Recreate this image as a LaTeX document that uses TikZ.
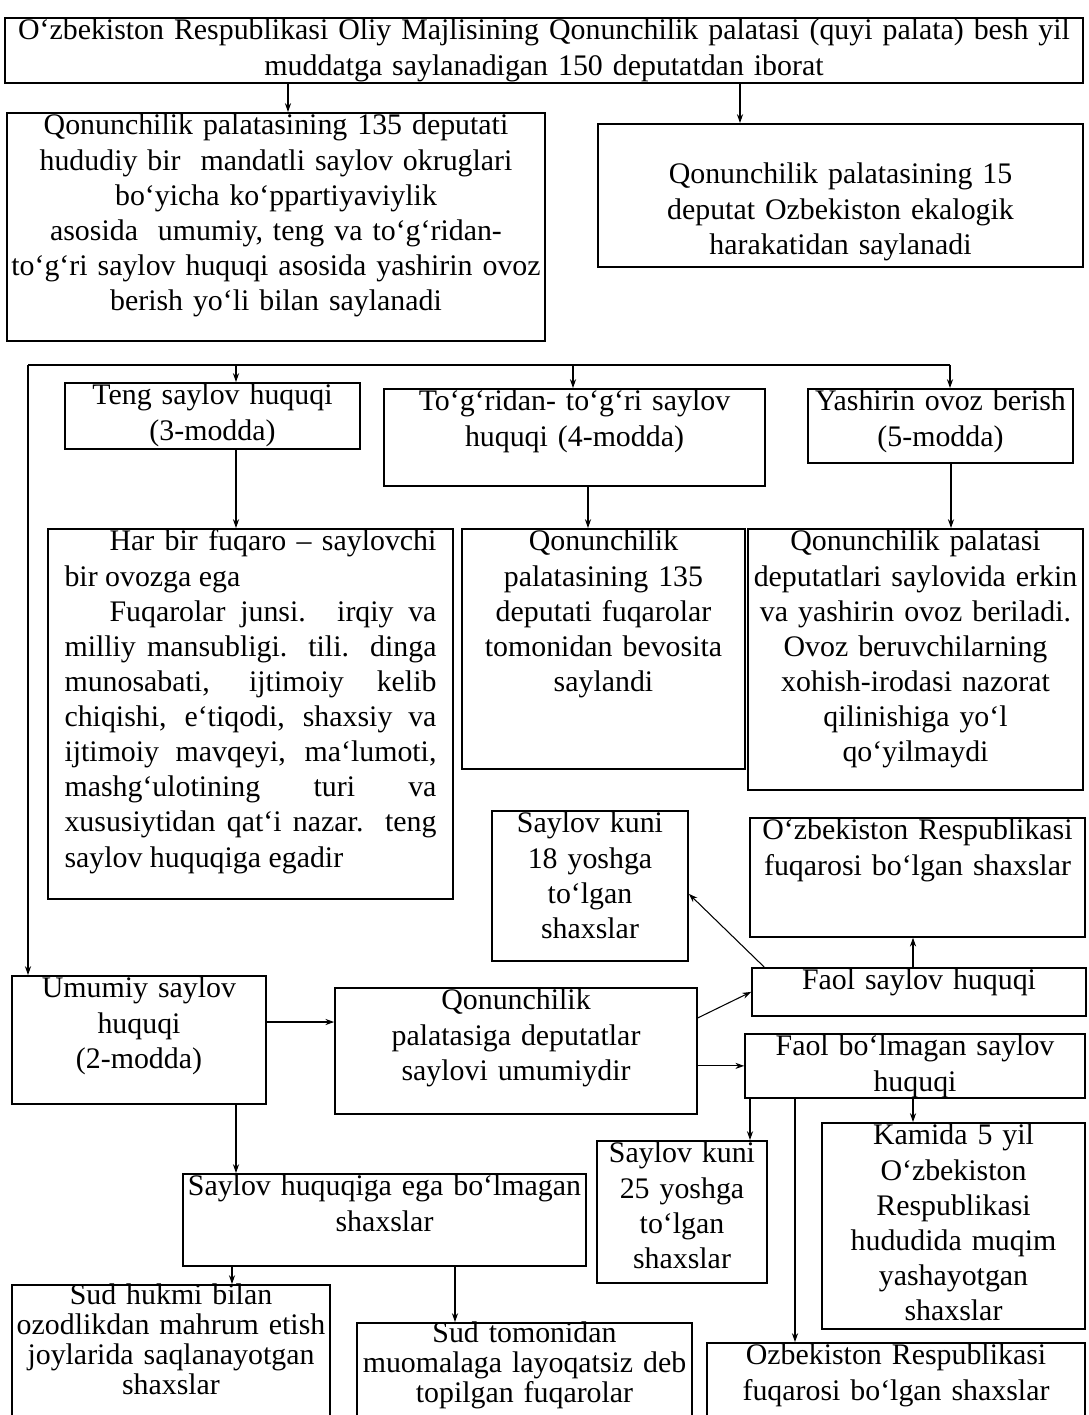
\documentclass[tikz,border=0pt]{standalone}
\usepackage{fontspec}
\setmainfont{Liberation Serif}
\usetikzlibrary{positioning,arrows.meta}
\tikzset{
  box/.style 2 args={draw, line width=1pt, anchor=north, align=center, inner xsep=1pt, inner ysep=0pt, text width=#1, text height=0.44cm, text depth=#2},
  tight/.style={font=\fontsize{17pt}{17pt}\selectfont, text height=0.40cm},
  arr/.style={-{Stealth[length=5pt,width=3.5pt]}, line width=0.6pt},
  ln/.style={line width=0.6pt}
}

\begin{document}
\begin{tikzpicture}[x=0.02cm, y=-0.02cm, font=\fontsize{17pt}{20pt}\selectfont]
  \useasboundingbox (0,0) rectangle (1088,1415);
  \clip (0,0) rectangle (1088,1415);

  % top part
  \node[box={21.49cm}{0.86cm}] (top) at (544,17) {O‘zbekiston Respublikasi Oliy Majlisining Qonunchilik palatasi (quyi palata) besh yil\\muddatga saylanadigan 150 deputatdan iborat};
  \node[box={10.69cm}{4.12cm}] (deputA) at (276,112) {Qonunchilik palatasining 135 deputati\\hududiy bir\ \ mandatli saylov okruglari\\bo‘yicha ko‘ppartiyaviylik\\asosida\ \ umumiy, teng va to‘g‘ridan-\\to‘g‘ri saylov huquqi asosida yashirin ovoz\\berish yo‘li bilan saylanadi};
  \node[box={9.63cm}{1.66cm}, text height=1.2cm] (deputB) at (840.5,123) {Qonunchilik palatasining 15\\deputat Ozbekiston ekalogik\\harakatidan saylanadi};
  \draw[arr] (288,0 |- top.south) -- (288,0 |- deputA.north);
  \draw[arr] (740,0 |- top.south) -- (740,0 |- deputB.north);

  % principles
  \node[box={5.83cm}{0.88cm}] (teng) at (212.5,382) {Teng saylov huquqi\\(3-modda)};
  \node[box={7.55cm}{1.50cm}] (togri) at (574.5,388) {To‘g‘ridan- to‘g‘ri saylov\\huquqi (4-modda)};
  \node[box={5.23cm}{1.04cm}] (yashirin) at (940.5,388) {Yashirin ovoz berish\\(5-modda)};

  \node[box={7.44cm}{6.96cm}, inner xsep=0.33cm, align=justify] (harbir) at (250.5,528) {\hspace*{0.9cm}Har bir fuqaro -- saylovchi\linebreak bir ovozga ega\par
    \hspace*{0.9cm}Fuqarolar junsi. irqiy va\linebreak milliy mansubligi. tili. dinga\linebreak munosabati, ijtimoiy kelib\linebreak chiqishi, e‘tiqodi, shaxsiy va\linebreak ijtimoiy mavqeyi, ma‘lumoti,\linebreak mashg‘ulotining turi va\linebreak xususiytidan qat‘i nazar. teng\linebreak saylov huquqiga egadir};
  \node[box={5.59cm}{4.36cm}] (deput135) at (603.5,528) {Qonunchilik\\palatasining 135\\deputati fuqarolar\\tomonidan bevosita\\saylandi};
  \node[box={6.63cm}{4.78cm}] (palatasi) at (915.5,528) {Qonunchilik palatasi\\deputatlari saylovida erkin\\va yashirin ovoz beriladi.\\Ovoz beruvchilarning\\xohish-irodasi nazorat\\qilinishiga yo‘l\\qo‘yilmaydi};

  \coordinate (busL) at (28,365);
  \coordinate (busR) at (950,365);
  \draw[ln] (busL) -- (busR);
  \draw[arr] (236,0 |- busL) -- (236,0 |- teng.north);
  \draw[arr] (573,0 |- busL) -- (573,0 |- togri.north);
  \draw[arr] (busR) -- (busR |- yashirin.north);
  \draw[arr] (236,0 |- teng.south) -- (236,0 |- harbir.north);
  \draw[arr] (588,0 |- togri.south) -- (588,0 |- deput135.north);
  \draw[arr] (951,0 |- yashirin.south) -- (951,0 |- palatasi.north);

  % general suffrage
  \node[box={3.85cm}{2.56cm}] (yosh18) at (590,810) {Saylov kuni\\18 yoshga\\to‘lgan\\shaxslar};
  \node[box={6.63cm}{1.94cm}] (fuqarosi) at (917.5,817) {O‘zbekiston Respublikasi\\fuqarosi bo‘lgan shaxslar};
  \node[box={6.61cm}{0.52cm}] (faol) at (919,967) {Faol saylov huquqi};
  \node[box={6.73cm}{0.84cm}] (faolmas) at (915,1033) {Faol bo‘lmagan saylov\\huquqi};
  \node[box={5.01cm}{2.12cm}] (umumiy) at (139,975) {Umumiy saylov\\huquqi\\(2-modda)};
  \node[box={7.17cm}{2.08cm}] (palatasiga) at (516,987) {Qonunchilik\\palatasiga deputatlar\\saylovi umumiydir};

  \draw[arr] (busL) -- (busL |- umumiy.north);
  \draw[arr] (umumiy.east |- 0,1022) -- (palatasiga.west |- 0,1022);
  \draw[arr] ([yshift=0.66cm]palatasiga.east) -- (faol.west);
  \draw[arr] (palatasiga.east |- faolmas.west) -- (faolmas.west);
  \draw[arr] ([xshift=0.26cm]faol.north west) -- ([yshift=-0.16cm]yosh18.east);
  \draw[arr] (913,0 |- faol.north) -- (913,0 |- fuqarosi.south);

  % lower part
  \node[box={7.99cm}{1.40cm}] (egaemas) at (384.5,1173) {Saylov huquqiga ega bo‘lmagan\\shaxslar};
  \node[box={3.33cm}{2.40cm}] (yosh25) at (682,1140) {Saylov kuni\\25 yoshga\\to‘lgan\\shaxslar};
  \node[box={5.19cm}{3.68cm}] (kamida) at (953.5,1122) {Kamida 5 yil\\O‘zbekiston\\Respublikasi\\hududida muqim\\yashayotgan\\shaxslar};
  \node[box={6.29cm}{2.72cm}, tight] (sudhukm) at (171,1284) {Sud hukmi bilan\\ozodlikdan mahrum etish\\joylarida saqlanayotgan\\shaxslar};
  \node[box={6.63cm}{2.00cm}, tight] (sudtom) at (524.5,1322) {Sud tomonidan\\muomalaga layoqatsiz deb\\topilgan fuqarolar};
  \node[box={7.49cm}{1.56cm}] (ozbek) at (896,1342) {Ozbekiston Respublikasi\\fuqarosi bo‘lgan shaxslar};

  \draw[arr] (236,0 |- umumiy.south) -- (236,0 |- egaemas.north);
  \draw[arr] (232,0 |- egaemas.south) -- (232,0 |- sudhukm.north);
  \draw[arr] (455,0 |- egaemas.south) -- (455,0 |- sudtom.north);
  \draw[arr] (750,0 |- faolmas.south) -- (750,0 |- yosh25.north);
  \draw[arr] (913,0 |- faolmas.south) -- (913,0 |- kamida.north);
  \draw[arr] (795,0 |- faolmas.south) -- (795,0 |- ozbek.north);
\end{tikzpicture}
\end{document}
